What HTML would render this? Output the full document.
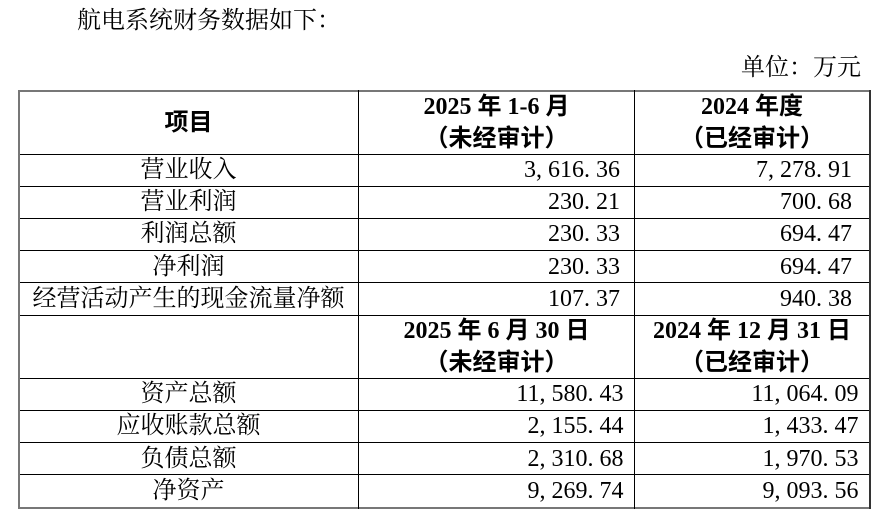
<!DOCTYPE html>
<html>
<head>
<meta charset="utf-8">
<style>
html,body{margin:0;padding:0;}
body{width:880px;height:514px;background:#fff;position:relative;overflow:hidden;}
.t{position:absolute;font-family:"Liberation Serif","Noto Serif CJK SC",serif;font-size:24px;color:#000;white-space:nowrap;box-sizing:border-box;line-height:32px;}
.c1{left:19px;width:339px;text-align:center;}
.c2{left:359px;width:275px;text-align:right;}
.c3{left:635px;width:234px;text-align:right;}
.u2{padding-right:14px;}
.u3{padding-right:17px;}
.l2{padding-right:10.5px;}
.l3{padding-right:10.5px;}
.h{font-family:"Liberation Serif","Noto Sans CJK SC",sans-serif;font-weight:700;text-align:center;}
i{font-style:normal;display:inline-block;width:12px;text-align:left;}
.hl{position:absolute;left:18px;width:852px;height:1px;background:#000;}
.vl{position:absolute;top:90px;height:419px;width:1px;background:#000;}
</style>
</head>
<body>
<div class="t" style="left:77px;top:5px;">航电系统财务数据如下：</div>
<div class="t" style="right:19px;top:52px;">单位：万元</div>

<!-- lines -->
<div class="hl" style="top:90px;height:2px;background:#777;"></div>
<div class="hl" style="top:154px;"></div>
<div class="hl" style="top:186px;"></div>
<div class="hl" style="top:218px;"></div>
<div class="hl" style="top:250px;"></div>
<div class="hl" style="top:282px;"></div>
<div class="hl" style="top:315px;"></div>
<div class="hl" style="top:378px;"></div>
<div class="hl" style="top:410px;"></div>
<div class="hl" style="top:442px;"></div>
<div class="hl" style="top:474px;"></div>
<div class="hl" style="top:507px;height:2px;background:#777;"></div>
<div class="vl" style="left:18px;width:2px;background:#777;"></div>
<div class="vl" style="left:358px;"></div>
<div class="vl" style="left:634px;"></div>
<div class="vl" style="left:869px;width:2px;background:#333;"></div>

<!-- header 1 -->
<div class="t h c1" style="top:91px;height:64px;line-height:64px;">项目</div>
<div class="t h" style="left:359px;width:275px;top:91px;">2025 年 1-6 月<br>（未经审计）</div>
<div class="t h" style="left:635px;width:234px;top:91px;">2024 年度<br>（已经审计）</div>

<!-- rows upper -->
<div class="t c1" style="top:155px;height:31px;line-height:31px;">营业收入</div>
<div class="t c2 u2" style="top:155px;line-height:31px;">3<i>,</i>616<i>.</i>36</div>
<div class="t c3 u3" style="top:155px;line-height:31px;">7<i>,</i>278<i>.</i>91</div>

<div class="t c1" style="top:186px;">营业利润</div>
<div class="t c2 u2" style="top:186px;">230<i>.</i>21</div>
<div class="t c3 u3" style="top:186px;">700<i>.</i>68</div>

<div class="t c1" style="top:218px;">利润总额</div>
<div class="t c2 u2" style="top:218px;">230<i>.</i>33</div>
<div class="t c3 u3" style="top:218px;">694<i>.</i>47</div>

<div class="t c1" style="top:250.5px;">净利润</div>
<div class="t c2 u2" style="top:250.5px;">230<i>.</i>33</div>
<div class="t c3 u3" style="top:250.5px;">694<i>.</i>47</div>

<div class="t c1" style="top:282.5px;">经营活动产生的现金流量净额</div>
<div class="t c2 u2" style="top:282.5px;">107<i>.</i>37</div>
<div class="t c3 u3" style="top:282.5px;">940<i>.</i>38</div>

<!-- header 2 -->
<div class="t h" style="left:359px;width:275px;top:315px;">2025 年 6 月 30 日<br>（未经审计）</div>
<div class="t h" style="left:635px;width:234px;top:315px;">2024 年 12 月 31 日<br>（已经审计）</div>

<!-- rows lower -->
<div class="t c1" style="top:378px;">资产总额</div>
<div class="t c2 l2" style="top:378px;">11<i>,</i>580<i>.</i>43</div>
<div class="t c3 l3" style="top:378px;">11<i>,</i>064<i>.</i>09</div>

<div class="t c1" style="top:410px;">应收账款总额</div>
<div class="t c2 l2" style="top:410px;">2<i>,</i>155<i>.</i>44</div>
<div class="t c3 l3" style="top:410px;">1<i>,</i>433<i>.</i>47</div>

<div class="t c1" style="top:442.5px;">负债总额</div>
<div class="t c2 l2" style="top:442.5px;">2<i>,</i>310<i>.</i>68</div>
<div class="t c3 l3" style="top:442.5px;">1<i>,</i>970<i>.</i>53</div>

<div class="t c1" style="top:475px;">净资产</div>
<div class="t c2 l2" style="top:475px;">9<i>,</i>269<i>.</i>74</div>
<div class="t c3 l3" style="top:475px;">9<i>,</i>093<i>.</i>56</div>
</body>
</html>
